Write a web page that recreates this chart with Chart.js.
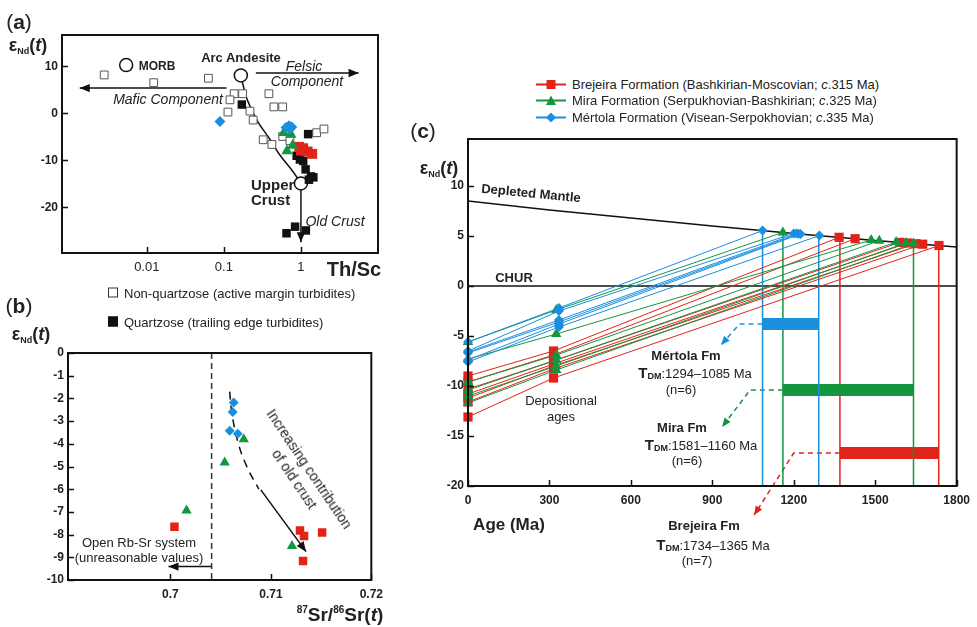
<!DOCTYPE html>
<html>
<head>
<meta charset="utf-8">
<script src="https://cdn.jsdelivr.net/npm/chart.js@4.4.1/dist/chart.umd.min.js"></script>
<style>
  body { margin: 0; background: #fff; font-family: "Liberation Sans", Arial, sans-serif; }
  #wrap { position: relative; width: 977px; height: 627px; overflow: hidden; }
  canvas { position: absolute; }
  .t { position: absolute; white-space: nowrap; color: #222; font-size: 13px; line-height: 1; transform: translate(-50%, -50%); }
  .l { transform: translate(0, -50%); }
  .b { font-weight: bold; }
  .i { font-style: italic; }
  .eps { font-size: 18px; font-weight: bold; }
  .eps sub { font-size: 9px; vertical-align: -3px; }
  .tdm b { font-size: 15px; }
  .tdm sub { font-size: 9px; font-weight: bold; vertical-align: -1px; }
  .panel { font-size: 21px; }
  .sq { display: inline-block; width: 8px; height: 8px; border: 1px solid #333; margin-right: 6px; vertical-align: 0; }
  .leg { position: absolute; left: 536px; font-size: 13px; color: #222; white-space: nowrap; display: flex; align-items: center; transform: translate(0, -50%); }
  .leg svg { margin-right: 6px; }
</style>
</head>
<body>
<div id="wrap">
  <canvas id="ca" width="390" height="275" style="left:0;top:0"></canvas>
  <canvas id="cb" width="390" height="310" style="left:0;top:300px"></canvas>
  <canvas id="cc" width="577" height="440" style="left:400px;top:100px"></canvas>

  <!-- panel (a) text -->
  <div class="t panel" style="left:19px;top:21px">(<b>a</b>)</div>
  <div class="t eps" style="left:28px;top:46px">ε<sub>Nd</sub>(<i>t</i>)</div>
  <div class="t b" style="left:157px;top:66px;font-size:12px">MORB</div>
  <div class="t b" style="left:241px;top:57px">Arc Andesite</div>
  <div class="t i" style="left:304px;top:66px;font-size:14px">Felsic</div>
  <div class="t i" style="left:307px;top:81px;font-size:14px">Component</div>
  <div class="t i" style="left:168px;top:99px;font-size:14px">Mafic Component</div>
  <div class="t b l" style="left:251px;top:184px;font-size:15px">Upper</div>
  <div class="t b l" style="left:251px;top:199px;font-size:15px">Crust</div>
  <div class="t i" style="left:335px;top:221px;font-size:14px">Old Crust</div>
  <div class="t b" style="left:354px;top:269px;font-size:20px">Th/Sc</div>
  <div class="t l" style="left:108px;top:293px"><span class="sq"></span>Non-quartzose (active margin turbidites)</div>

  <!-- panel (b) text -->
  <div class="t panel" style="left:19px;top:305px">(<b>b</b>)</div>
  <div class="t l" style="left:108px;top:322px"><span class="sq" style="background:#111;border-color:#111"></span>Quartzose (trailing edge turbidites)</div>
  <div class="t eps" style="left:31px;top:335px">ε<sub>Nd</sub>(<i>t</i>)</div>
  <div class="t" style="left:139px;top:542px">Open Rb-Sr system</div>
  <div class="t" style="left:139px;top:557px">(unreasonable values)</div>
  <div class="t" style="left:302px;top:474px;transform:translate(-50%,-50%) rotate(56deg);text-align:center;line-height:18px;font-size:14px">Increasing contribution<br>of old crust</div>
  <div class="t b" style="left:340px;top:614px;font-size:19px"><sup style="font-size:10px">87</sup>Sr/<sup style="font-size:10px">86</sup>Sr(<i>t</i>)</div>

  <!-- panel (c) text -->
  <div class="leg" style="top:84px"><svg width="30" height="10"><line x1="0" y1="5" x2="30" y2="5" stroke="#e2231a" stroke-width="2"/><rect x="10.5" y="0.5" width="9" height="9" fill="#e2231a"/></svg><span>Brejeira Formation (Bashkirian-Moscovian; <i>c</i>.315 Ma)</span></div>
  <div class="leg" style="top:100px"><svg width="30" height="10"><line x1="0" y1="5" x2="30" y2="5" stroke="#14963e" stroke-width="2"/><polygon points="15,0 20,9.5 10,9.5" fill="#14963e"/></svg><span>Mira Formation (Serpukhovian-Bashkirian; <i>c</i>.325 Ma)</span></div>
  <div class="leg" style="top:117px"><svg width="30" height="10"><line x1="0" y1="5" x2="30" y2="5" stroke="#1b8fde" stroke-width="2"/><polygon points="15,0 20,5 15,10 10,5" fill="#1b8fde"/></svg><span>Mértola Formation (Visean-Serpokhovian; <i>c</i>.335 Ma)</span></div>
  <div class="t panel" style="left:423px;top:130px">(<b>c</b>)</div>
  <div class="t eps" style="left:439px;top:169px">ε<sub>Nd</sub>(<i>t</i>)</div>
  <div class="t b" style="left:531px;top:193px;transform:translate(-50%,-50%) rotate(5.5deg)">Depleted Mantle</div>
  <div class="t b" style="left:514px;top:277px">CHUR</div>
  <div class="t b" style="left:686px;top:355px">Mértola Fm</div>
  <div class="t tdm" style="left:695px;top:373px"><b>T<sub>DM</sub></b>:1294–1085 Ma</div>
  <div class="t" style="left:681px;top:389px">(n=6)</div>
  <div class="t" style="left:561px;top:400px">Depositional</div>
  <div class="t" style="left:561px;top:416px">ages</div>
  <div class="t b" style="left:682px;top:427px">Mira Fm</div>
  <div class="t tdm" style="left:701px;top:445px"><b>T<sub>DM</sub></b>:1581–1160 Ma</div>
  <div class="t" style="left:687px;top:460px">(n=6)</div>
  <div class="t b" style="left:509px;top:524px;font-size:17px">Age (Ma)</div>
  <div class="t b" style="left:704px;top:525px">Brejeira Fm</div>
  <div class="t tdm" style="left:713px;top:545px"><b>T<sub>DM</sub></b>:1734–1365 Ma</div>
  <div class="t" style="left:697px;top:560px">(n=7)</div>
</div>

<script>
// colours
const RED = '#e2231a', GREEN = '#14963e', BLUE = '#1b8fde', INK = '#111';

// ---------- panel (a): Th/Sc vs eNd(t) ----------
const aTicksX = [0.01, 0.1, 1];
const aTicksY = [-20, -10, 0, 10];
const nonQzTh = [0.0028, 0.0123, 0.063, 0.136, 0.175, 0.12, 0.113, 0.218, 0.24, 0.324, 0.42, 0.384, 0.446, 0.58, 0.58, 0.72, 1.6, 1.99];
const nonQzNd = [8.2, 6.55, 7.5, 4.2, 4.2, 2.9, 0.3, 0.5, -1.4, -5.6, -6.6, 4.2, 1.4, 1.4, -4.9, -5.8, -4.1, -3.3];
const qzTh = [0.171, 1.24, 0.88, 0.97, 1.07, 1.15, 1.35, 1.45, 1.27, 0.65, 0.84, 1.16];
const qzNd = [1.9, -4.4, -9.0, -9.8, -10.1, -11.9, -13.4, -13.6, -14.1, -25.5, -24.1, -24.9];
const aMertTh = [0.089, 0.64, 0.70, 0.76, 0.72];
const aMertNd = [-1.7, -3.0, -2.6, -2.9, -3.3];
const aMiraTh = [0.6, 0.74, 0.78, 0.66];
const aMiraNd = [-4.1, -4.5, -6.8, -8.0];
const aBrejTh = [0.95, 1.07, 1.0, 1.22, 1.4];
const aBrejNd = [-7.1, -7.4, -7.9, -8.1, -8.6];
const endTh = [0.0054, 0.166, 1.0];     // MORB, Arc Andesite, Upper Crust
const endNd = [10.3, 8.1, -14.9];
const mixTh = [0.166, 0.2, 0.27, 0.4, 0.53, 0.79, 1.0];
const mixNd = [8.1, 3.0, -1.5, -5.6, -8.8, -12.4, -14.9];

// ---------- panel (b): 87Sr/86Sr(t) vs eNd(t) ----------
const bTicksX = [0.7, 0.71, 0.72];
const bTicksY = [-10, -9, -8, -7, -6, -5, -4, -3, -2, -1, 0];
const bMertSr = [0.7063, 0.7062, 0.7059, 0.7067];
const bMertNd = [-2.18, -2.6, -3.43, -3.56];
const bMiraSr = [0.7073, 0.7054, 0.7016, 0.7121];
const bMiraNd = [-3.8, -4.82, -6.94, -8.5];
const bBrejSr = [0.7004, 0.7129, 0.7133, 0.7151, 0.7132];
const bBrejNd = [-7.65, -7.82, -8.06, -7.91, -9.16];
const trendSr = [0.7059, 0.7061, 0.7067, 0.7076, 0.7088];
const trendNd = [-1.7, -2.6, -3.9, -5.0, -6.0];
const openSrLimit = 0.7041;

// ---------- panel (c): eNd evolution vs age ----------
const cTicksX = [0, 300, 600, 900, 1200, 1500, 1800];
const cTicksY = [-20, -15, -10, -5, 0, 5, 10];
const dmAge = [0, 300, 600, 900, 1200, 1500, 1800];
const dmNd = [8.5, 7.6, 6.8, 6.0, 5.26, 4.56, 3.91];
// Mértola Fm (c.335 Ma)
const mertAge = 335;
const mertNd0 = [-5.6, -6.5, -6.6, -6.7, -7.4, -7.6];
const mertNdT = [-2.2, -2.5, -3.4, -3.6, -3.8, -4.1];
const mertTdm = [1085, 1200, 1210, 1218, 1225, 1294];
const mertDm = [5.54, 5.26, 5.24, 5.22, 5.21, 5.04];
// Mira Fm (c.325 Ma)
const miraAge = 325;
const miraNd0 = [-5.6, -7.3, -9.6, -10.4, -11.0, -11.7];
const miraNdT = [-2.4, -4.8, -6.9, -7.4, -8.0, -8.4];
const miraTdm = [1160, 1485, 1515, 1577, 1614, 1641];
const miraDm = [5.36, 4.6, 4.53, 4.39, 4.31, 4.25];
// Brejeira Fm (c.315 Ma)
const brejAge = 315;
const brejNd0 = [-9.0, -9.6, -10.3, -10.8, -11.2, -11.6, -13.1];
const brejNdT = [-6.5, -6.9, -7.5, -7.8, -8.0, -8.3, -9.2];
const brejTdm = [1367, 1426, 1590, 1620, 1650, 1675, 1735];
const brejDm = [4.87, 4.73, 4.36, 4.30, 4.23, 4.18, 4.05];
// T_DM ranges (age span, bar level)
const mertRange = [1085, 1292], mertBarNd = -3.8;
const miraRange = [1160, 1641], miraBarNd = -10.4;
const brejRange = [1370, 1734], brejBarNd = -16.7;

const pts = (xs, ys) => xs.map((x, i) => ({ x, y: ys[i] }));

// box + inward ticks
const frame = {
  id: 'frame',
  afterDraw(chart) {
    const { ctx, chartArea: a, scales } = chart;
    ctx.save();
    ctx.strokeStyle = INK;
    ctx.lineWidth = 1.5;
    ctx.beginPath();
    scales.x.ticks.forEach(t => {
      const p = Math.round(scales.x.getPixelForValue(t.value)) + 0.5;
      ctx.moveTo(p, a.bottom); ctx.lineTo(p, a.bottom - 6);
    });
    scales.y.ticks.forEach(t => {
      const p = Math.round(scales.y.getPixelForValue(t.value)) + 0.5;
      ctx.moveTo(a.left, p); ctx.lineTo(a.left + 6, p);
    });
    ctx.stroke();
    ctx.lineWidth = 2;
    ctx.strokeRect(a.left, a.top, a.right - a.left, a.bottom - a.top);
    ctx.restore();
  }
};

// filled arrowheads at the last point of datasets that ask for one
const arrowHeads = {
  id: 'arrowHeads',
  afterDatasetsDraw(chart) {
    const ctx = chart.ctx;
    chart.data.datasets.forEach((ds, i) => {
      if (!ds.arrow) return;
      const d = chart.getDatasetMeta(i).data;
      const p = d[d.length - 1], q = d[d.length - 2];
      const ang = Math.atan2(p.y - q.y, p.x - q.x);
      const L = ds.arrow, W = L * 0.42;
      const bx = p.x - L * Math.cos(ang), by = p.y - L * Math.sin(ang);
      ctx.save();
      ctx.fillStyle = ds.borderColor;
      ctx.beginPath();
      ctx.moveTo(p.x, p.y);
      ctx.lineTo(bx + W * Math.sin(ang), by - W * Math.cos(ang));
      ctx.lineTo(bx - W * Math.sin(ang), by + W * Math.cos(ang));
      ctx.closePath();
      ctx.fill();
      ctx.restore();
    });
  }
};

const tickFont = { family: '"Liberation Sans", Arial, sans-serif', size: 12, weight: 'bold' };

function axis(type, min, max, ticks, fit, isX, font) {
  return {
    type, min, max,
    grid: { display: false, drawTicks: false },
    border: { display: false },
    afterBuildTicks: s => { s.ticks = ticks.map(v => ({ value: v })); },
    afterFit: s => { if (isX) s.height = fit; else s.width = fit; },
    ticks: {
      color: '#222', font: font || tickFont, padding: isX ? 7 : 4,
      autoSkip: false, maxRotation: 0,
      callback: v => String(v)
    }
  };
}

function baseOptions(pad, x, y) {
  return {
    responsive: false,
    animation: false,
    layout: { padding: pad },
    plugins: { legend: { display: false }, tooltip: { enabled: false } },
    scales: { x, y }
  };
}

function markers(data, style, color, r, extra) {
  return Object.assign({
    data, showLine: false, pointStyle: style, pointRadius: r,
    pointBackgroundColor: color, pointBorderColor: color, pointBorderWidth: 0
  }, extra || {});
}

function line(data, color, width, extra) {
  return Object.assign({
    data, showLine: true, borderColor: color, borderWidth: width, pointRadius: 0, fill: false
  }, extra || {});
}

// ---------- chart (a) ----------
new Chart(document.getElementById('ca'), {
  type: 'scatter',
  data: {
    datasets: [
      markers(pts(aMertTh, aMertNd), 'rectRot', BLUE, 5.5),
      markers(pts(aMiraTh, aMiraNd), 'triangle', GREEN, 6.5),
      markers(pts(aBrejTh, aBrejNd), 'rect', RED, 7),
      markers(pts(qzTh, qzNd), 'rect', INK, 6),
      markers(pts(nonQzTh, nonQzNd), 'rect', '#fff', 5.5, { pointBorderColor: '#555', pointBorderWidth: 1 }),
      markers(pts(endTh, endNd), 'circle', '#fff', 6.5, { pointBorderColor: INK, pointBorderWidth: 1.5 }),
      line(pts(mixTh, mixNd), INK, 1.5, { tension: 0.4 }),
      line(pts([0.108, 0.00135], [5.4, 5.4]), INK, 1.5, { arrow: 10 }),
      line(pts([0.26, 5.6], [8.6, 8.6]), INK, 1.5, { arrow: 10 }),
      line(pts([1.0, 1.0], [-15.8, -27.4]), INK, 1.5, { arrow: 10 })
    ]
  },
  options: baseOptions({ left: 0, top: 35, right: 12, bottom: 0 },
    axis('logarithmic', 0.000794, 10, aTicksX, 22, true,
      { family: '"Liberation Sans", Arial, sans-serif', size: 13 }),
    axis('linear', -29.7, 16.7, aTicksY, 62, false)),
  plugins: [frame, arrowHeads]
});

// ---------- chart (b) ----------
new Chart(document.getElementById('cb'), {
  type: 'scatter',
  data: {
    datasets: [
      markers(pts(bMertSr, bMertNd), 'rectRot', BLUE, 5),
      markers(pts(bMiraSr, bMiraNd), 'triangle', GREEN, 6),
      markers(pts(bBrejSr, bBrejNd), 'rect', RED, 6),
      line(pts(trendSr, trendNd), INK, 1.5, { tension: 0.4, borderDash: [8, 6] }),
      line(pts([0.709, 0.7135], [-6.03, -8.75]), INK, 1.5, { arrow: 10 }),
      line(pts([openSrLimit, openSrLimit], [0, -10]), '#333', 1.5, { borderDash: [6, 4] }),
      line(pts([openSrLimit, 0.6998], [-9.41, -9.41]), INK, 1.5, { arrow: 10 })
    ]
  },
  options: baseOptions({ left: 0, top: 53, right: 13, bottom: 0 },
    axis('linear', 0.6898, 0.72, bTicksX, 30, true),
    axis('linear', -10, 0, bTicksY, 68, false)),
  plugins: [frame, arrowHeads]
});

// ---------- chart (c) ----------
function sampleLines(age, nd0, ndT, tdm, dm, color, style, r) {
  return nd0.map((v, i) => ({
    data: [{ x: 0, y: v }, { x: age, y: ndT[i] }, { x: tdm[i], y: dm[i] }],
    showLine: true, borderColor: color, borderWidth: 1, clip: false,
    pointStyle: style, pointRadius: r, pointBackgroundColor: color, pointBorderWidth: 0
  }));
}

const rangeSets = (range, dm, barNd, color) => [
  line(pts([range[0], range[0]], [dm[0], -20]), color, 1.5),
  line(pts([range[1], range[1]], [dm[dm.length - 1], -20]), color, 1.5),
  line(pts(range, [barNd, barNd]), color, 12, { borderCapStyle: 'butt' })
];

new Chart(document.getElementById('cc'), {
  type: 'scatter',
  data: {
    datasets: [
      ...sampleLines(mertAge, mertNd0, mertNdT, mertTdm, mertDm, BLUE, 'rectRot', 5),
      ...sampleLines(miraAge, miraNd0, miraNdT, miraTdm, miraDm, GREEN, 'triangle', 6),
      ...sampleLines(brejAge, brejNd0, brejNdT, brejTdm, brejDm, RED, 'rect', 6.5),
      ...rangeSets(mertRange, [5.54, 5.04], mertBarNd, BLUE),
      ...rangeSets(miraRange, [5.36, 4.25], miraBarNd, GREEN),
      ...rangeSets(brejRange, [4.87, 4.05], brejBarNd, RED),
      line(pts([mertRange[0], 1000, 932], [mertBarNd, mertBarNd, -5.9]), BLUE, 1.5, { borderDash: [5, 4], arrow: 9 }),
      line(pts([miraRange[0], 1039, 936], [miraBarNd, miraBarNd, -14.1]), GREEN, 1.5, { borderDash: [5, 4], arrow: 9 }),
      line(pts([brejRange[0], 1200, 1054], [brejBarNd, brejBarNd, -22.9]), RED, 1.5, { borderDash: [5, 4], arrow: 9, clip: false }),
      line(pts(dmAge, dmNd), INK, 1.5),
      line(pts([0, 1800], [0, 0]), INK, 1.5)
    ]
  },
  options: baseOptions({ left: 0, top: 39, right: 18, bottom: 0 },
    axis('linear', 0, 1800, cTicksX, 54, true),
    axis('linear', -20, 14.7, cTicksY, 68, false)),
  plugins: [frame, arrowHeads]
});
</script>
</body>
</html>
